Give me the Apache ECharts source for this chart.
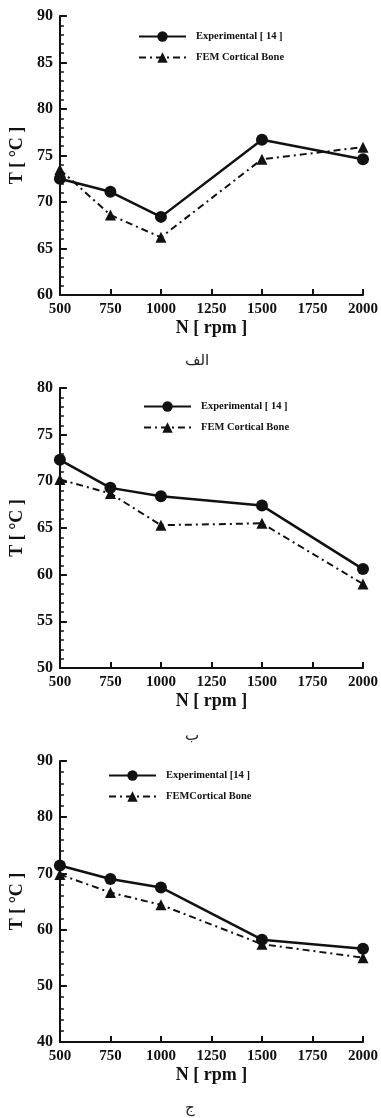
<!DOCTYPE html>
<html>
<head>
<meta charset="utf-8">
<style>
  html, body { margin: 0; padding: 0; background: #fff; }
  #chart { width: 381px; height: 1118px; }
</style>
<script src="https://cdn.jsdelivr.net/npm/echarts@6/dist/echarts.min.js"></script>
</head>
<body>
<div id="chart"></div>
<script>
// Drilling speed (rpm) shared by all three panels
const rpm = [500, 750, 1000, 1500, 2000];

// Panel الف
const expA = [72.5, 71.1, 68.4, 76.7, 74.6];
const femA = [73.5, 68.6, 66.2, 74.6, 75.9];
// Panel ب
const expB = [72.3, 69.3, 68.4, 67.4, 60.6];
const femB = [70.2, 68.7, 65.3, 65.5, 59.0];
// Panel ج
const expC = [71.4, 69.0, 67.5, 58.2, 56.6];
const femC = [69.8, 66.6, 64.4, 57.4, 55.0];

// Axis ranges [min, max, interval]
const xRange = [500, 2000, 250];
const yRanges = [[60, 90, 5], [50, 80, 5], [40, 90, 10]];

const captions = ['الف', 'ب', 'ج'];
const expNames = ['Experimental [ 14 ]', 'Experimental [ 14 ] ', 'Experimental [14 ]'];
const femNames = ['FEM Cortical Bone', 'FEM Cortical Bone ', 'FEMCortical Bone'];

const panels = [
  { exp: expA, fem: femA, grid: { left: 57, right: 16, top: 16, height: 279 }, legend: { left: 138, top: 31 }, cap: 364 },
  { exp: expB, fem: femB, grid: { left: 58, right: 16, top: 388, height: 280 }, legend: { left: 143, top: 401 }, cap: 739 },
  { exp: expC, fem: femC, grid: { left: 54, right: 17, top: 761, height: 281 }, legend: { left: 108, top: 770 }, cap: 1111 }
];

const serif = "'Liberation Serif', 'Times New Roman', serif";
const ink = '#111';

const toPairs = (vals) => rpm.map((r, i) => [r, vals[i]]);

const option = {
  animation: false,
  backgroundColor: '#fff',
  grid: [], xAxis: [], yAxis: [], series: [], legend: [], graphic: []
};

panels.forEach((p, k) => {
  const [ymin, ymax, yint] = yRanges[k];
  option.grid.push(p.grid);
  option.xAxis.push({
    type: 'value', gridIndex: k,
    min: xRange[0], max: xRange[1], interval: xRange[2],
    name: 'N [ rpm ]', nameLocation: 'middle', nameGap: 24,
    nameTextStyle: { fontFamily: serif, fontWeight: 'bold', fontSize: 18, color: ink },
    axisLine: { show: true, lineStyle: { color: ink, width: 2 } },
    axisTick: { show: true, inside: true, length: 6, lineStyle: { color: ink, width: 2 } },
    axisLabel: { fontFamily: serif, fontWeight: 'bold', fontSize: 15, color: ink, margin: 7,
                 formatter: (v) => String(v) },
    splitLine: { show: false }
  });
  option.yAxis.push({
    type: 'value', gridIndex: k,
    min: ymin, max: ymax, interval: yint,
    name: 'T [ °C ]', nameLocation: 'middle', nameGap: 30,
    nameTextStyle: { fontFamily: serif, fontWeight: 'bold', fontSize: 18, color: ink },
    axisLine: { show: true, lineStyle: { color: ink, width: 2 } },
    axisTick: { show: true, inside: true, length: 7, lineStyle: { color: ink, width: 2 } },
    minorTick: { show: true, splitNumber: 5, length: 4, lineStyle: { color: ink, width: 1.5 } },
    axisLabel: { fontFamily: serif, fontWeight: 'bold', fontSize: 16, color: ink, margin: 7 },
    splitLine: { show: false }
  });
  option.series.push({
    name: expNames[k], type: 'line', xAxisIndex: k, yAxisIndex: k,
    data: toPairs(p.exp),
    symbol: 'circle', symbolSize: 12,
    lineStyle: { color: ink, width: 2.5, type: 'solid' },
    itemStyle: { color: ink }, z: 3
  });
  option.series.push({
    name: femNames[k], type: 'line', xAxisIndex: k, yAxisIndex: k,
    data: toPairs(p.fem),
    symbol: 'triangle', symbolSize: 11,
    lineStyle: { color: ink, width: 2, type: [7, 4, 2, 4] },
    itemStyle: { color: ink }, z: 2
  });
  option.legend.push({
    data: [expNames[k], femNames[k]],
    orient: 'vertical', left: p.legend.left, top: p.legend.top, padding: 0,
    itemWidth: 47, itemHeight: 13, itemGap: 10,
    selectedMode: false,
    textStyle: { fontFamily: serif, fontWeight: 'bold', fontSize: 10.5, color: ink, padding: [0, 0, 0, 5] }
  });
  option.graphic.push({
    type: 'text', left: 197 - 12, top: p.cap - 10,
    style: { text: captions[k], font: "15px 'DejaVu Sans'", fill: '#222' }
  });
});

const chart = echarts.init(document.getElementById('chart'), null, { renderer: 'canvas' });
chart.setOption(option);
</script>
</body>
</html>
